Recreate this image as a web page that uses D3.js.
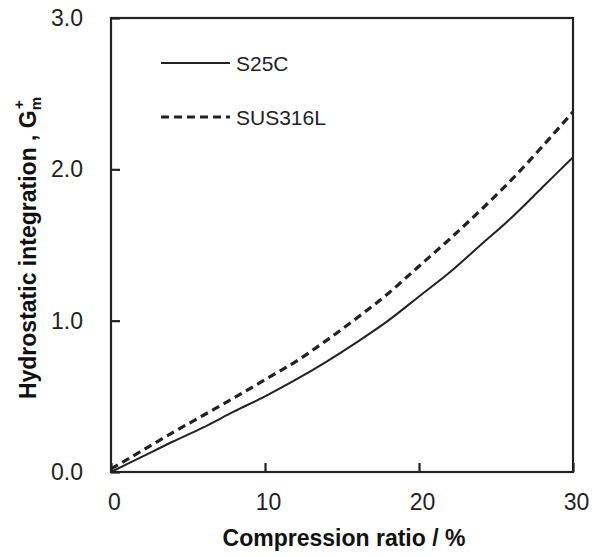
<!DOCTYPE html>
<html>
<head>
<meta charset="utf-8">
<script src="https://cdn.jsdelivr.net/npm/d3@7"></script>
<style>
  body { margin: 0; background: #fff; }
  svg { display: block; }
</style>
</head>
<body>
<svg id="chart" width="601" height="557"></svg>
<script>
// Data
const compression = [0, 2, 4, 6, 8, 10, 12, 14, 16, 18, 20, 22, 24, 26, 28, 30];
const s25c       = [0, 0.10, 0.20, 0.295, 0.40, 0.50, 0.61, 0.73, 0.86, 1.00, 1.16, 1.32, 1.50, 1.68, 1.88, 2.08];
const sus316l    = [0.02, 0.14, 0.26, 0.375, 0.49, 0.61, 0.73, 0.87, 1.02, 1.18, 1.36, 1.54, 1.73, 1.93, 2.15, 2.38];
const seriesNames = ["S25C", "SUS316L"];
const xTicks = [0, 10, 20, 30];
const yTicks = [0, 1, 2, 3];

const svg = d3.select("#chart");
const pLeft = 111, pRight = 573, pTop = 18, pBottom = 472;

const x = d3.scaleLinear().domain([0, 30]).range([pLeft, pRight]);
const y = d3.scaleLinear().domain([0, 3]).range([pBottom, pTop]);

const ink = "#222";

// Frame
svg.append("rect")
  .attr("x", pLeft).attr("y", pTop)
  .attr("width", pRight - pLeft).attr("height", pBottom - pTop)
  .attr("fill", "none").attr("stroke", ink).attr("stroke-width", 2.2);

// X axis (ticks inward)
const xAxis = d3.axisBottom(x).tickValues(xTicks).tickSize(-9).tickPadding(22)
  .tickFormat(d3.format("d"));
const gx = svg.append("g").attr("transform", `translate(0,${pBottom})`).call(xAxis);
gx.select(".domain").remove();
gx.selectAll(".tick line").attr("stroke", ink).attr("stroke-width", 2.2);
gx.selectAll(".tick text")
  .attr("font-family", "Liberation Sans, Arial, sans-serif")
  .attr("font-size", 23).attr("fill", ink).attr("dx", 3);

// Y axis (ticks inward)
const yAxis = d3.axisLeft(y).tickValues(yTicks).tickSize(-9).tickPadding(28)
  .tickFormat(d3.format(".1f"));
const gy = svg.append("g").attr("transform", `translate(${pLeft},0)`).call(yAxis);
gy.select(".domain").remove();
gy.selectAll(".tick line").attr("stroke", ink).attr("stroke-width", 2.2);
gy.selectAll(".tick text")
  .attr("font-family", "Liberation Sans, Arial, sans-serif")
  .attr("font-size", 23).attr("fill", ink);

// Axis titles
svg.append("text")
  .attr("x", 344).attr("y", 546)
  .attr("text-anchor", "middle")
  .attr("font-family", "Liberation Sans, Arial, sans-serif")
  .attr("font-weight", "bold").attr("font-size", 23).attr("fill", "#111")
  .text("Compression ratio / %");

const yt = svg.append("text")
  .attr("transform", "translate(36,248) rotate(-90)")
  .attr("text-anchor", "middle")
  .attr("font-family", "Liberation Sans, Arial, sans-serif")
  .attr("font-weight", "bold").attr("font-size", 23).attr("fill", "#111");
yt.append("tspan").text("Hydrostatic integration , G");
yt.append("tspan").attr("font-size", 15).attr("dy", 5).text("m");
yt.append("tspan").attr("font-size", 15).attr("dx", -12).attr("dy", -17).text("+");

// Lines
const line = d3.line()
  .x((d, i) => x(compression[i]))
  .y(d => y(d))
  .curve(d3.curveMonotoneX);

svg.append("path").datum(s25c)
  .attr("d", line).attr("fill", "none")
  .attr("stroke", ink).attr("stroke-width", 2);

svg.append("path").datum(sus316l)
  .attr("d", line).attr("fill", "none")
  .attr("stroke", ink).attr("stroke-width", 3.2)
  .attr("stroke-dasharray", "8,5");

// Legend
const legend = [
  { name: seriesNames[0], y: 63, dash: null, w: 2 },
  { name: seriesNames[1], y: 117, dash: "8,5", w: 3.2 }
];
legend.forEach(l => {
  svg.append("line")
    .attr("x1", 161).attr("x2", 230).attr("y1", l.y).attr("y2", l.y)
    .attr("stroke", ink).attr("stroke-width", l.w)
    .attr("stroke-dasharray", l.dash);
  svg.append("text")
    .attr("x", 236).attr("y", l.y + 8)
    .attr("font-family", "Liberation Sans, Arial, sans-serif")
    .attr("font-size", 21).attr("fill", ink)
    .text(l.name);
});
</script>
</body>
</html>
